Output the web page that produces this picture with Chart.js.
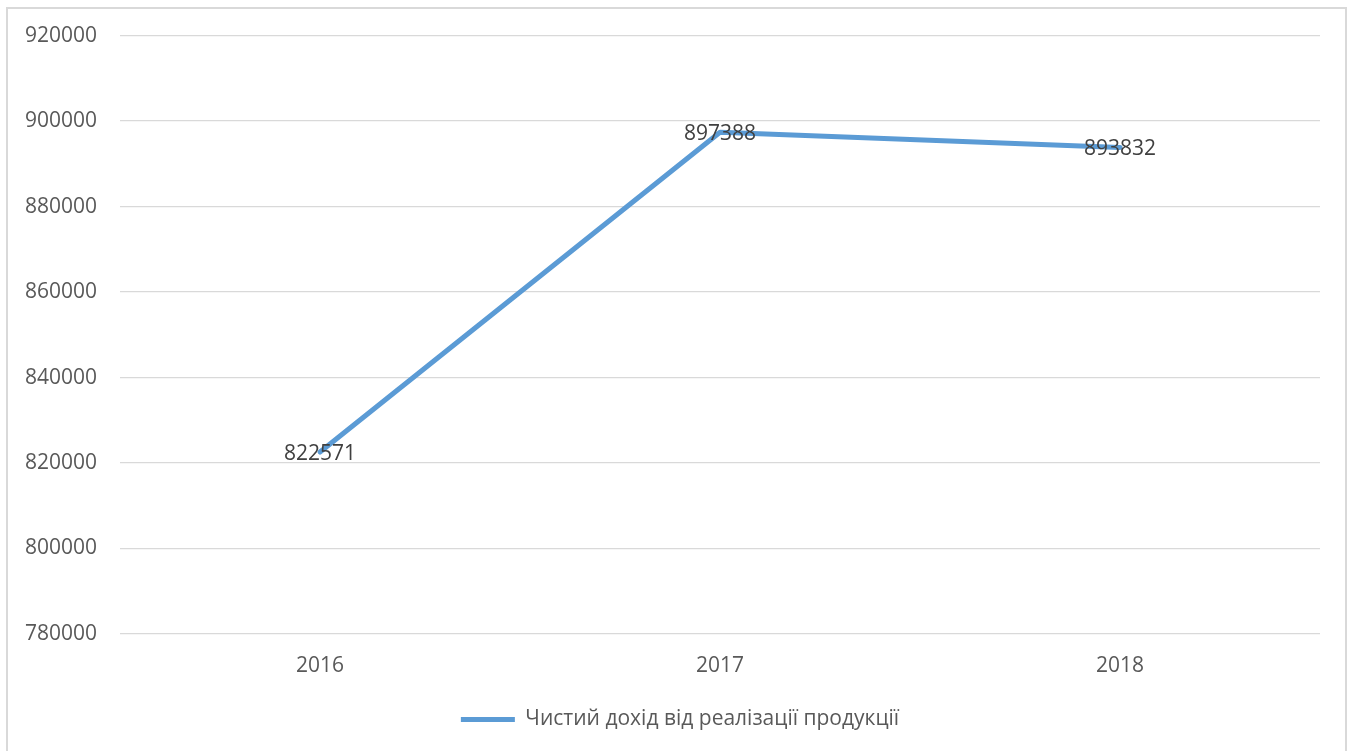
<!DOCTYPE html>
<html>
<head>
<meta charset="utf-8">
<script src="https://cdn.jsdelivr.net/npm/chart.js@4.4.0/dist/chart.umd.min.js"></script>
<style>
  html, body { margin: 0; padding: 0; background: #fff; }
  #frame { position: absolute; left: 0; top: 0; width: 1352px; height: 751px; }
  #border { position: absolute; left: 6px; top: 7px; width: 1341px; height: 760px; border: 2px solid #d9d9d9; box-sizing: border-box; pointer-events: none; }
</style>
</head>
<body>
<div id="frame"><canvas id="c" width="1352" height="751"></canvas></div>
<div id="border"></div>
<script>
const categories = ["2016", "2017", "2018"];
const seriesName = "Чистий дохід від реалізації продукції";
const seriesValues = [822571, 897388, 893832];
const yMin = 780000;
const yMax = 920000;
const yStep = 20000;

const FONT = "'Open Sans', sans-serif";

const valueLabels = {
  id: 'valueLabels',
  afterDatasetsDraw(chart) {
    const ctx = chart.ctx;
    ctx.save();
    ctx.font = "21px " + FONT;
    ctx.fillStyle = "#404040";
    ctx.textAlign = "center";
    ctx.textBaseline = "middle";
    chart.data.datasets.forEach((ds, i) => {
      const meta = chart.getDatasetMeta(i);
      meta.data.forEach((pt, j) => {
        ctx.fillText(String(ds.data[j]), pt.x, pt.y + 2);
      });
    });
    ctx.restore();
  }
};

// centre the legend under the plot area (as in the original) rather than the whole canvas
const legendShift = {
  id: 'legendShift',
  afterLayout(chart) {
    const lg = chart.legend;
    if (lg) { lg.left += 40; }
  }
};

new Chart(document.getElementById('c'), {
  type: 'line',
  data: {
    labels: categories,
    datasets: [{
      label: seriesName,
      data: seriesValues,
      borderColor: '#5b9bd5',
      backgroundColor: '#5b9bd5',
      borderWidth: 5,
      borderCapStyle: 'round',
      borderJoinStyle: 'round',
      pointRadius: 0,
      pointHoverRadius: 0,
      pointStyle: 'line',
      tension: 0,
      fill: false
    }]
  },
  options: {
    responsive: false,
    animation: false,
    events: [],
    layout: { padding: { left: 0, right: 32, top: 27, bottom: 11 } },
    plugins: {
      tooltip: { enabled: false },
      legend: {
        position: 'bottom',
        labels: {
          usePointStyle: true,
          pointStyleWidth: 54,
          boxHeight: 4,
          color: '#595959',
          font: { family: FONT, size: 21 },
          padding: 10
        }
      }
    },
    scales: {
      x: {
        offset: true,
        grid: { display: false, drawTicks: false },
        border: { display: false },
        ticks: { color: '#595959', font: { family: FONT, size: 21 }, padding: 19 },
        afterFit(scale) { scale.height = 65; }
      },
      y: {
        min: yMin,
        max: yMax,
        ticks: {
          stepSize: yStep,
          color: '#595959',
          font: { family: FONT, size: 21 },
          padding: 23,
          callback: (v) => String(v)
        },
        grid: { color: '#d9d9d9', lineWidth: 1.3, drawTicks: false },
        border: { display: false },
        afterFit(scale) { scale.width = 120; }
      }
    }
  },
  plugins: [valueLabels, legendShift]
});
</script>
</body>
</html>
